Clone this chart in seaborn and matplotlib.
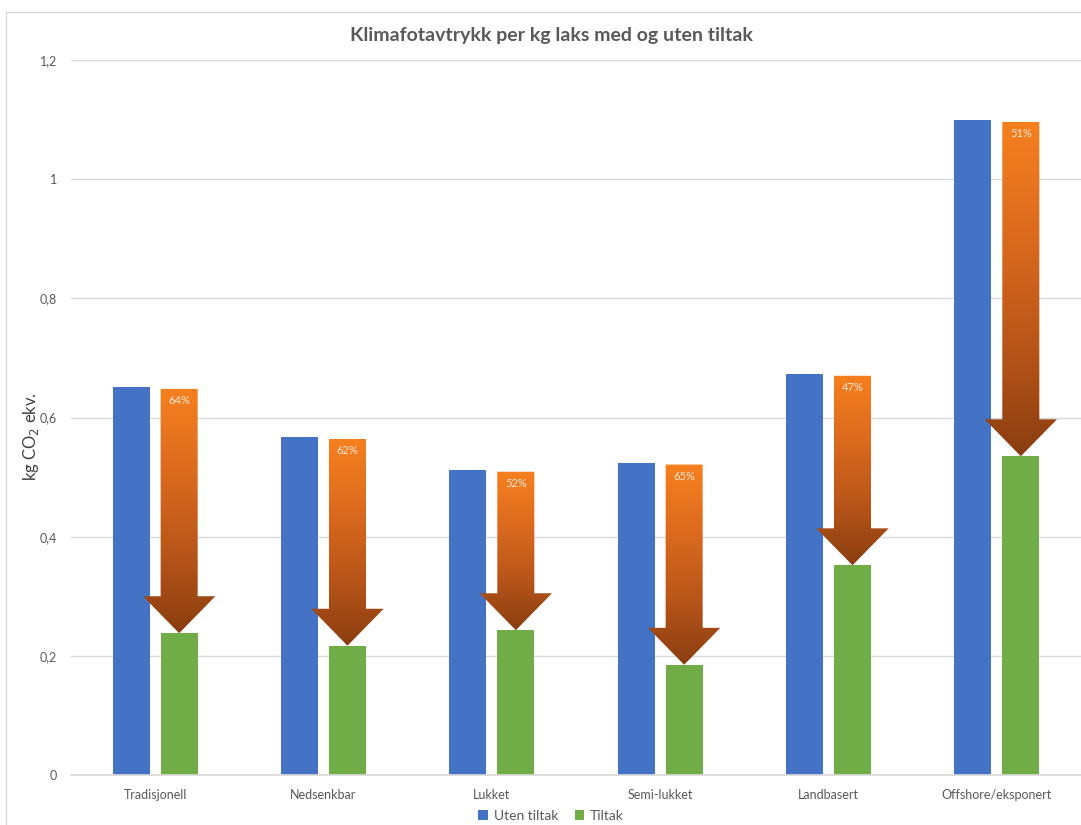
import numpy as np
import pandas as pd
import matplotlib
matplotlib.use("Agg")
import matplotlib.pyplot as plt
import seaborn as sns
from matplotlib.patches import Polygon, Rectangle, Patch
from matplotlib.colors import LinearSegmentedColormap
from matplotlib.ticker import FuncFormatter

# Data
kategorier = ["Tradisjonell", "Nedsenkbar", "Lukket", "Semi-lukket", "Landbasert", "Offshore/eksponert"]
uten_tiltak = [0.651, 0.567, 0.512, 0.524, 0.673, 1.099]
tiltak = [0.238, 0.217, 0.243, 0.185, 0.352, 0.535]
reduksjon = [64, 62, 52, 65, 47, 51]
serier = ["Uten tiltak", "Tiltak"]
farger = ["#4472C4", "#70AD47"]
yticks = [0, 0.2, 0.4, 0.6, 0.8, 1.0, 1.2]

sns.set_theme(style="white")
plt.rcParams["font.family"] = ["Lato", "DejaVu Sans"]

df = pd.DataFrame({
    "kategori": kategorier * 2,
    "serie": [serier[0]] * len(kategorier) + [serier[1]] * len(kategorier),
    "verdi": uten_tiltak + tiltak,
})

fig = plt.figure(figsize=(10.81, 8.25), dpi=100)
ax = fig.add_axes([71 / 1081, 1 - 775 / 825, 1 - 71 / 1081, (775 - 60) / 825])

sns.barplot(data=df, x="kategori", y="verdi", hue="serie", order=kategorier,
            hue_order=serier, palette=farger, saturation=1, width=0.57, gap=0.228,
            legend=False, ax=ax, linewidth=0, zorder=2)

ax.set_xlim(-0.5, len(kategorier) - 0.5)
ax.set_ylim(0, 1.2)
ax.set_yticks(yticks)
ax.yaxis.set_major_formatter(FuncFormatter(lambda v, p: f"{v:g}".replace(".", ",")))
ax.grid(axis="y", color="#D9D9D9", linewidth=1)
ax.set_axisbelow(True)
for s in ["left", "right", "top"]:
    ax.spines[s].set_visible(False)
ax.spines["bottom"].set_color("#D9D9D9")
ax.tick_params(axis="y", length=0, pad=10, labelsize=9, labelcolor="#595959")
ax.tick_params(axis="x", length=0, pad=10, labelsize=9, labelcolor="#595959")
ax.set_xlabel("")
ax.set_ylabel("")

# Gradient arrows from the "uten tiltak" level down to the "tiltak" level
cmap = LinearSegmentedColormap.from_list("pil", ["#8A3D10", "#B9561A", "#DC6B1E", "#F6801F"])
grad = np.linspace(0, 1, 256).reshape(-1, 1)
dodge = 0.57 / 4
skaft = 0.57 / 2 * (1 - 0.228)
hode_b = 0.43
hode_h = 0.062
for i, (topp, bunn, pct) in enumerate(zip(uten_tiltak, tiltak, reduksjon)):
    xc = i + dodge
    top = topp - 0.003
    hs = bunn + hode_h
    pts = [(xc - skaft / 2, top), (xc + skaft / 2, top), (xc + skaft / 2, hs),
           (xc + hode_b / 2, hs), (xc, bunn), (xc - hode_b / 2, hs), (xc - skaft / 2, hs)]
    poly = Polygon(pts, closed=True, facecolor="none", edgecolor="none", transform=ax.transData)
    ax.add_patch(poly)
    im = ax.imshow(grad, cmap=cmap, origin="lower", aspect="auto",
                   extent=(xc - hode_b / 2, xc + hode_b / 2, bunn, top), zorder=3)
    im.set_clip_path(poly)
    ax.text(xc, top - 0.02, f"{pct}%", ha="center", va="center", fontsize=8,
            color="#FDE9DA", zorder=4)

ax.set_xlim(-0.5, len(kategorier) - 0.5)
ax.set_ylim(0, 1.2)

fig.text(551 / 1081, 1 - 35 / 825, "Klimafotavtrykk per kg laks med og uten tiltak",
         ha="center", va="center", fontsize=14, fontweight="bold", color="#595959")
fig.text(31 / 1081, 1 - 437 / 825, "kg CO$_2$ ekv.", ha="center", va="center",
         rotation=90, fontsize=12, color="#404040")

handles = [Patch(facecolor=c, edgecolor="none") for c in farger]
fig.legend(handles, serier, loc="center", bbox_to_anchor=(551 / 1081, 1 - 816 / 825),
           ncol=2, frameon=False, fontsize=10, handlelength=0.7, handleheight=0.7,
           handletextpad=0.4, columnspacing=1.2, labelcolor="#595959")

fig.patches.append(Rectangle((6 / 1081, -0.1), 1.2, 1 - 12 / 825 + 0.1,
                             transform=fig.transFigure, fill=False,
                             edgecolor="#D9D9D9", linewidth=1))

fig.savefig("out.png", dpi=100, facecolor="white")
